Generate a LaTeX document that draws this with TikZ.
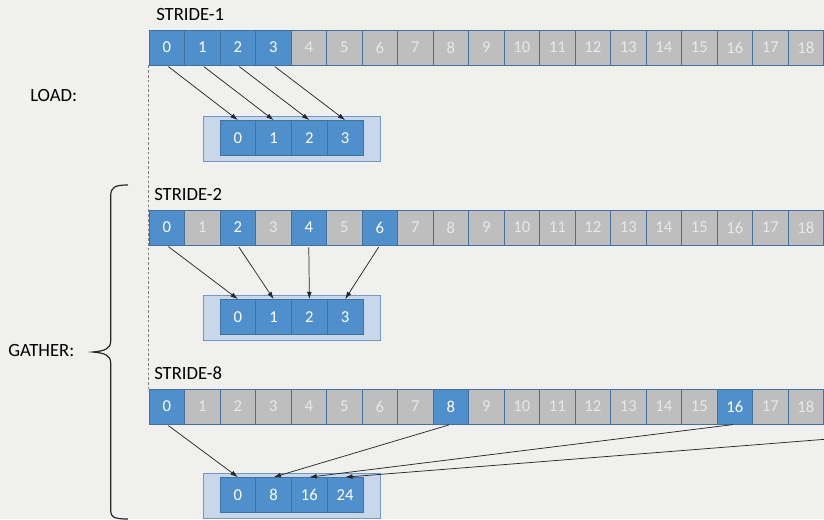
\documentclass[tikz,border=0pt]{standalone}
\usepackage{fontspec}
\setmainfont{Carlito}
\usetikzlibrary{positioning, arrows.meta}
\definecolor{paper}{HTML}{F0F0EE}
\definecolor{cellblue}{HTML}{4F8FCB}
\definecolor{cellgray}{HTML}{BEBEBE}
\definecolor{graytext}{HTML}{E8E8E8}
\definecolor{cellline}{HTML}{41719C}
\definecolor{boxfill}{HTML}{C8D8EA}
\definecolor{boxline}{HTML}{7199C2}

\begin{document}
\begin{tikzpicture}[
  x=0.75pt, y=-0.75pt,
  cell/.style={draw=cellline, line width=0.6pt, minimum width=26.6pt,
               minimum height=26.2pt, inner sep=0pt,
               font=\fontsize{12.5}{14}\selectfont},
  slot/.style={cell, fill=cellblue, text=white, minimum width=26.8pt},
  holder/.style={draw=boxline, fill=boxfill, line width=0.6pt,
                 minimum width=132.8pt, minimum height=33.8pt, inner sep=0pt},
  label/.style={anchor=west, inner sep=0pt, font=\fontsize{14}{16}\selectfont},
  link/.style={-{Latex[length=5.5pt,width=3.6pt]}, line width=0.55pt, black!85},
  guide/.style={gray, line width=0.8pt, dash pattern=on 2pt off 1.6pt},
  brace/.style={line width=0.9pt, black!85}
]
\clip (0,0) rectangle (824,519);
\fill[paper] (0,0) rectangle (824,519);

% source rows
\foreach \r/\t in {1/30, 2/210, 3/389}
  \foreach \i in {0,...,18} {
    \pgfmathtruncatemacro\on{(\r==1)*(\i<4) + (\r==2)*(\i<8)*(mod(\i,2)==0) + (\r==3)*(mod(\i,8)==0)}
    \ifnum\on>0 \def\fc{cellblue}\def\tc{white}\else\def\fc{cellgray}\def\tc{graytext}\fi
    \node[cell, fill=\fc, text=\tc] (r\r-\i) at ({166.75+35.5*\i},{\t+17.5}) {\i};
  }
% element 24 lies beyond the right edge
\coordinate (r3-24) at ({166.75+35.5*24},424);

% destination registers
\foreach \r/\t/\vals in {1/116/{0,1,2,3}, 2/295/{0,1,2,3}, 3/473/{0,8,16,24}} {
  \node[holder] (b\r) at (291.5,{\t+22.5}) {};
  \foreach \v [count=\k from 0] in \vals
    \node[slot] (g\r-\k) at ({237.9+35.75*\k},{\t+22}) {\v};
}

\node[label] (s1) at (156,15) {STRIDE-1};
\node[label] (s2) at (154,194) {STRIDE-2};
\node[label] (s3) at (154,373) {STRIDE-8};
\node[label] (load) at (30,96) {LOAD:};
\node[label] (gather) at (8,351) {GATHER:};

\draw[guide] (r1-0.south west) -- (r3-0.north west);

\foreach \k in {0,...,3} {
  \pgfmathtruncatemacro\two{2*\k}
  \draw[link, shorten <=1.5pt] (r1-\k.south) -- (g1-\k.north);
  \draw[link, shorten <=1.5pt] (r2-\two.south) -- (g2-\k.north);
}
\draw[link, shorten <=1.5pt] (r3-0.south) -- (g3-0.north);
\draw[link, shorten <=1.5pt] (r3-8.south) -- (g3-1.north);
\draw[link, shorten <=1.5pt] (r3-16.south) -- (g3-2.north);
\draw[link] (r3-24) -- (g3-3.north);

\draw[brace] (128,185) .. controls (115,185) and (110.7,187) .. (110.7,196)
  -- (110.7,341) .. controls (110.7,349) and (104,351) .. (93,352)
  .. controls (104,353) and (110.7,355) .. (110.7,363)
  -- (110.7,511) .. controls (110.7,517) and (114,519) .. (128,519);
\end{tikzpicture}
\end{document}
